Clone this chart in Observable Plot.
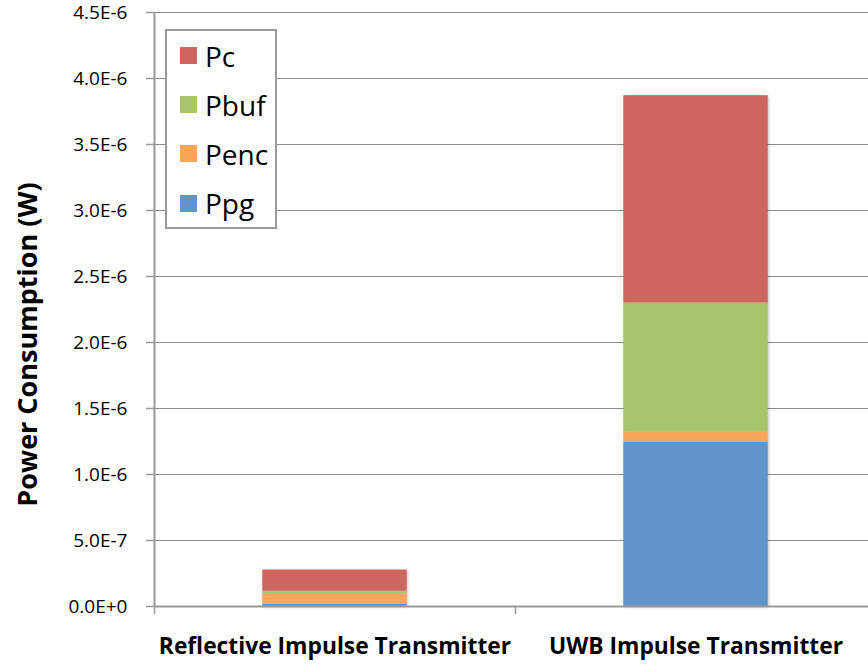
<!DOCTYPE html>
<html>
<head>
<meta charset="utf-8">
<script src="https://cdn.jsdelivr.net/npm/d3@7"></script>
<script src="https://cdn.jsdelivr.net/npm/@observablehq/plot@0.6"></script>
<style>
  html, body { margin: 0; padding: 0; background: #fff; overflow: hidden; }
  #wrap { position: relative; width: 868px; height: 668px; font-family: "Open Sans", sans-serif; }
  #wrap svg g[aria-label="rect"] { filter: drop-shadow(1.5px 1px 1.5px rgba(0,0,0,0.25)); }
  #legend {
    position: absolute; left: 165px; top: 29px; width: 112px; height: 200px;
    box-sizing: border-box; border: 2px solid #9a9a9a; background: #fff;
  }
  .row { display: flex; align-items: center; height: 49.2px; padding-left: 13px; }
  .sw { width: 17px; height: 17px; margin-right: 8px; flex: none; }
  .lab { font-size: 28px; color: #000; line-height: 1; }
</style>
</head>
<body>
<div id="wrap"></div>
<script>
const categories = ["Reflective Impulse Transmitter", "UWB Impulse Transmitter"];
const components = ["Ppg", "Penc", "Pbuf", "Pc"]; // stacking order, bottom to top
const colors = ["#6195C9", "#F9A65A", "#A9C46C", "#CC665E"];
const Ppg  = [0.018e-6, 1.245e-6];
const Penc = [0.078e-6, 0.075e-6];
const Pbuf = [0.020e-6, 0.980e-6];
const Pc   = [0.160e-6, 1.570e-6];
const yTicks = [0, 5e-7, 1e-6, 1.5e-6, 2e-6, 2.5e-6, 3e-6, 3.5e-6, 4e-6, 4.5e-6];
const yTitle = "Power Consumption (W)";

const series = {Ppg, Penc, Pbuf, Pc};
const rows = [];
categories.forEach((cat, i) => {
  let acc = 0;
  components.forEach(comp => {
    const v = series[comp][i];
    rows.push({cat, i, comp, y1: acc, y2: acc + v});
    acc += v;
  });
});

const fmt = d => d.toExponential(1).toUpperCase();
const gray = "#999";

const chart = Plot.plot({
  width: 868,
  height: 668,
  marginLeft: 154,
  marginRight: 0,
  marginTop: 12,
  marginBottom: 62,
  x: {domain: [-0.5, 1.5], range: [154, 876]},
  y: {domain: [0, 4.5e-6]},
  color: {domain: components, range: colors},
  style: {fontFamily: "Open Sans", fontSize: "19px", color: "#000", background: "#fff", overflow: "visible"},
  marks: [
    Plot.gridY({ticks: yTicks, stroke: "#8c8c8c", strokeOpacity: 1, strokeWidth: 1}),
    Plot.rectY(rows, {x1: d => d.i - 0.2, x2: d => d.i + 0.2, y1: "y1", y2: "y2", fill: "comp"}),
    Plot.ruleY([0], {stroke: gray, strokeWidth: 2}),
    Plot.ruleX([-0.5], {stroke: gray, strokeWidth: 2}),
    Plot.axisY({ticks: yTicks, tickSize: 8, tickFormat: () => "", stroke: gray, strokeWidth: 1.5, label: null}),
    Plot.axisX({ticks: [-0.5, 0.5, 1.5], tickSize: 8, tickFormat: () => "", stroke: gray, strokeWidth: 1.5, label: null}),
    Plot.text(yTicks, {x: -0.5, y: d => d, text: fmt, textAnchor: "end", dx: -27, fontSize: 19, fill: "#000"}),
    Plot.text(categories, {x: (d, i) => i, frameAnchor: "bottom", dy: 47, fontSize: 22.8, fontWeight: "bold", fill: "#000"}),
    Plot.text([yTitle], {frameAnchor: "left", textAnchor: "middle", rotate: -90, dx: -126, dy: 35, fontSize: 27, fontWeight: "bold", fill: "#000"})
  ]
});

const wrap = document.getElementById("wrap");
wrap.appendChild(chart);

const legend = document.createElement("div");
legend.id = "legend";
components.slice().reverse().forEach(comp => {
  const r = document.createElement("div");
  r.className = "row";
  const sw = document.createElement("div");
  sw.className = "sw";
  sw.style.background = colors[components.indexOf(comp)];
  const lab = document.createElement("span");
  lab.className = "lab";
  lab.textContent = comp;
  r.appendChild(sw);
  r.appendChild(lab);
  legend.appendChild(r);
});
wrap.appendChild(legend);
</script>
</body>
</html>
